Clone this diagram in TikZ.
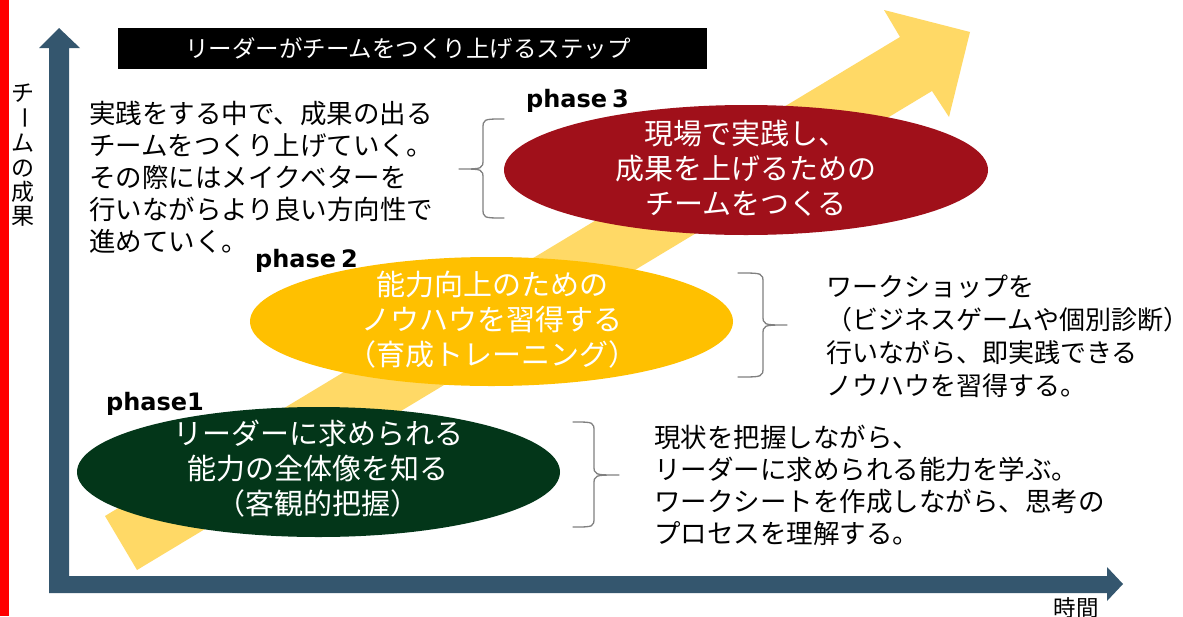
\documentclass[tikz,border=0pt]{standalone}
\usepackage{fontspec}
\setmainfont{Noto Sans CJK JP}
\newfontfamily\phasefont{DejaVu Sans}
\usetikzlibrary{shapes.geometric}
\definecolor{axisblue}{RGB}{52,86,110}
\definecolor{arrowyellow}{RGB}{255,217,102}
\definecolor{p3red}{RGB}{160,16,26}
\definecolor{p2gold}{RGB}{255,192,0}
\definecolor{p1green}{RGB}{3,54,25}
\definecolor{bracegray}{RGB}{128,128,128}
\tikzset{
  bodytext/.style={align=left, inner sep=0pt, text=black, font=\fontsize{26.5}{32}\selectfont},
  elltext/.style={align=center, inner sep=0pt, text=white, font=\fontsize{29}{35}\selectfont},
  phaseellipse/.style={ellipse, inner sep=0pt, minimum width=484pt, minimum height=130pt},
  phaselbl/.style={anchor=west, inner sep=0pt, text=black, font=\phasefont\bfseries\fontsize{24}{28}\selectfont},
  vchar/.style={inner sep=0pt, text height=20.2pt, text depth=2.8pt, text=black, font=\fontsize{23}{24}\selectfont},
  bracestyle/.style={draw=bracegray, line width=1.3pt, line cap=round, line join=round}
}
\begin{document}
\begin{tikzpicture}[x=1pt,y=-1pt]
\useasboundingbox (0,0) rectangle (1183,616);
\fill[white] (0,0) rectangle (1183,616);
% red bar at left edge
\fill[red] (0,0) rectangle (9,616);
% big yellow arrow
\fill[arrowyellow] (105,516) -- (900,37) -- (884,10) -- (970,32) -- (949,117) -- (932,91) -- (137,570) -- cycle;
% axes
\fill[axisblue] (49,593) -- (49,48) -- (39,48) -- (59,28) -- (80,48) -- (69,48) -- (69,576)
  -- (1107,576) -- (1107,567) -- (1123,584) -- (1107,601) -- (1107,593) -- cycle;
% title
\node[fill=black, inner sep=0pt, minimum width=589pt, minimum height=41pt] (titlebox) at (412.5,48.5) {};
\node[inner sep=0pt, text=white, font=\fontsize{23.5}{26}\selectfont] (title) at (408,48.5) {リーダーがチームをつくり上げるステップ};
% y axis label
\node[vchar] (v1) at (23,93) {チ};
\node[vchar, rotate=-90] (v2) at (25,118) {ー};
\node[vchar] (v3) at (23,143) {ム};
\node[vchar] (v4) at (23,167.5) {の};
\node[vchar] (v5) at (23,192) {成};
\node[vchar] (v6) at (23,215.5) {果};
% x axis label
\node[inner sep=0pt, text height=19.8pt, text depth=2.7pt, font=\fontsize{22.5}{24}\selectfont] (xlabel) at (1076,608) {時間};
% phase ellipses
\node[phaseellipse, fill=p3red] (e3) at (746,170) {};
\node[phaseellipse, fill=p2gold, minimum width=483pt, minimum height=129pt] (e2) at (491.5,321.5) {};
\node[phaseellipse, fill=p1green, minimum width=483pt] (e1) at (318.5,472) {};
\node[elltext] (t3) at (746,168) {現場で実践し、\\成果を上げるための\\チームをつくる};
\node[elltext] (t2) at (492,320) {能力向上のための\\ノウハウを習得する\\（育成トレーニング）};
\node[elltext] (t1) at (318,468.5) {リーダーに求められる\\能力の全体像を知る\\（客観的把握）};
% phase labels
\node[phaselbl] (ph3) at (526,101) {phase\hspace{0.2em}3};
\node[phaselbl] (ph2) at (255,260.5) {phase\hspace{0.2em}2};
\node[phaselbl] (ph1) at (106,404) {phase1};
% descriptions
\node[bodytext, anchor=west] (d3) at (89,177) {実践をする中で、成果の出る\\チームをつくり上げていく。\\その際にはメイクベターを\\行いながらより良い方向性で\\進めていく。};
\node[bodytext, anchor=west, font=\fontsize{26}{33}\selectfont] (d2) at (826,336.5) {ワークショップを\\（ビジネスゲームや個別診断\makebox[0.5em][l]{）}\\行いながら、即実践できる\\ノウハウを習得する。};
\node[bodytext, anchor=west] (d1) at (654,485.5) {現状を把握しながら、\\リーダーに求められる能力を学ぶ。\\ワークシートを作成しながら、思考の\\プロセスを理解する。};
% braces
\draw[bracestyle] (504,119) .. controls (483,119) .. (483,129) -- (483,159) .. controls (483,169) .. (459,169)
  .. controls (483,169) .. (483,179) -- (483,208) .. controls (483,218) .. (504,218);
\draw[bracestyle] (738,273) .. controls (763,273) .. (763,283) -- (763,315) .. controls (763,325) .. (787,325)
  .. controls (763,325) .. (763,335) -- (763,367) .. controls (763,377) .. (738,377);
\draw[bracestyle] (573,422) .. controls (594,422) .. (594,432) -- (594,465) .. controls (594,475) .. (619,475)
  .. controls (594,475) .. (594,485) -- (594,517) .. controls (594,527) .. (573,527);
\end{tikzpicture}
\end{document}
